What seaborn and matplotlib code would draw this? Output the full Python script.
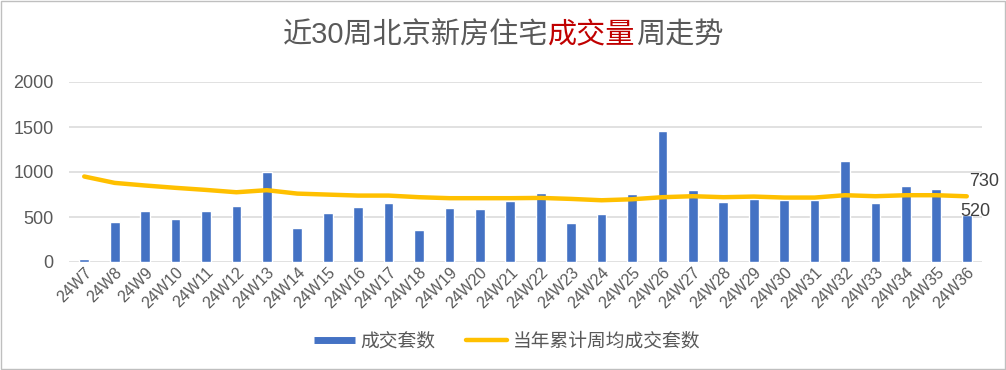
import numpy as np
import pandas as pd
import seaborn as sb
import matplotlib.pyplot as plt
from matplotlib.lines import Line2D
from matplotlib.patches import Rectangle
from matplotlib.offsetbox import TextArea, HPacker, AnchoredOffsetbox

# weekly data
weeks = ['24W%d' % w for w in range(7, 37)]
deals = [30, 450, 565, 475, 565, 620, 1000, 375, 542, 608,
         653, 352, 597, 586, 679, 764, 430, 530, 753, 1454,
         798, 664, 698, 690, 690, 1120, 653, 842, 809, 520]
avg_deals = [950, 879, 850, 824, 801, 775, 798, 760, 749, 738,
             738, 720, 709, 709, 709, 712, 701, 686, 697, 720,
             731, 720, 727, 716, 716, 742, 731, 742, 742, 730]
yticks = [0, 500, 1000, 1500, 2000]

title_parts = [('近30周北京新房住宅', '#595959'), ('成交量', '#C00000'), ('周走势', '#595959')]
bar_label = '成交套数'
line_label = '当年累计周均成交套数'

BLUE = '#4472C4'
GOLD = '#FFC000'
GREY = '#595959'

sb.set_theme(style='white')
plt.rcParams['font.family'] = ['Liberation Sans', 'Noto Sans CJK SC', 'DejaVu Sans']

df = pd.DataFrame({'week': weeks, 'deals': deals, 'avg': avg_deals})

fig = plt.figure(figsize=(10.06, 3.70), dpi=100)
ax = fig.add_axes([69 / 1006, 1 - 262 / 370, 913 / 1006, 180 / 370])

sb.barplot(data=df, x='week', y='deals', color=BLUE, saturation=1,
           width=0.32, ax=ax, zorder=2)
sb.lineplot(x=df.index, y=df['avg'], color=GOLD, linewidth=3.2, ax=ax,
            zorder=3, solid_capstyle='round')

ax.set_ylim(0, 2000)
ax.set_xlim(-0.5, len(weeks) - 0.5)
ax.set_yticks(yticks)
ax.yaxis.grid(True, color='#D9D9D9', linewidth=1.1, zorder=0)
ax.set_axisbelow(True)
for s in ax.spines.values():
    s.set_visible(False)
ax.set_xlabel('')
ax.set_ylabel('')
ax.tick_params(axis='y', labelsize=13, labelcolor=GREY, length=0, pad=11)
ax.tick_params(axis='x', labelsize=11.5, labelcolor=GREY, length=0, pad=2)
plt.setp(ax.get_xticklabels(), rotation=45, ha='right', rotation_mode='anchor')

# labels on the last week
last = len(weeks) - 1
ax.annotate(str(avg_deals[-1]), xy=(last, avg_deals[-1]), xytext=(2, 11),
            textcoords='offset points', ha='left', va='center',
            fontsize=13, color='#404040')
ax.annotate(str(deals[-1]), xy=(last, deals[-1]), xytext=(6, 3),
            textcoords='offset points', ha='center', va='center',
            fontsize=13, color='#404040')

# title with coloured middle part
pieces = [TextArea(t, textprops=dict(color=c, fontsize=21)) for t, c in title_parts]
box = HPacker(children=pieces, pad=0, sep=0, align='baseline')
anchored = AnchoredOffsetbox(loc='center', child=box, pad=0, frameon=False,
                             bbox_to_anchor=(503 / 1006, 1 - 35 / 370),
                             bbox_transform=fig.transFigure, borderpad=0)
fig.add_artist(anchored)

handles = [Line2D([], [], color=BLUE, linewidth=5, solid_capstyle='butt'),
           Line2D([], [], color=GOLD, linewidth=3.2, solid_capstyle='round')]
fig.legend(handles, [bar_label, line_label], loc='center', ncol=2,
           bbox_to_anchor=(507 / 1006, 1 - 342 / 370), frameon=False,
           fontsize=13.5, handlelength=2.2, handletextpad=0.3,
           columnspacing=1.6, labelcolor=GREY)

fig.add_artist(Rectangle((0.0005, 0.0015), 0.999, 0.997, transform=fig.transFigure,
                         fill=False, edgecolor='#BFBFBF', linewidth=1))

fig.savefig('out.png', dpi=100)
